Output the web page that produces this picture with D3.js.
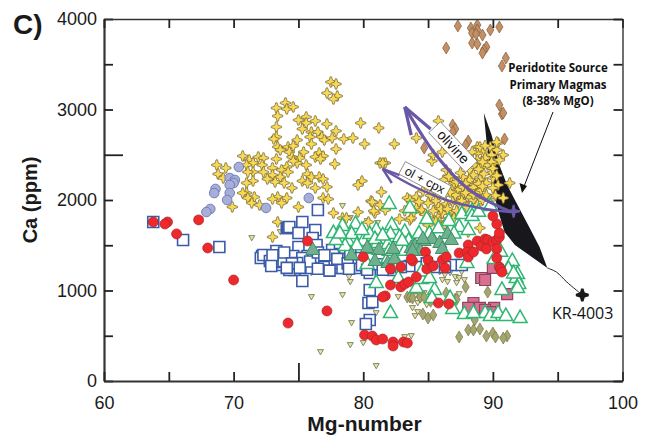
<!DOCTYPE html>
<html>
<head>
<meta charset="utf-8">
<script src="https://cdn.jsdelivr.net/npm/d3@7"></script>
<style>
  html, body { margin: 0; padding: 0; background: #fff; }
  svg { display: block; font-family: "Liberation Sans", Arial, sans-serif; }
</style>
</head>
<body>
<svg width="653" height="440"></svg>
<script>
// values as [Mg-number, Ca ppm]
const smallTriangles = [[71.4,1580],[73.6,1646],[78.4,1934],[79,1801],[80.3,1768],[81.1,1746],[76,928],[78.4,950],[78.9,1149],[79,1094],[79.1,641],[79,398],[76.7,320],[81,166],[80,420],[81,751],[82.7,928],[83.8,807],[84,718],[84.2,762],[83.7,497],[83.2,486],[76,1193],[87.4,961],[85.9,1204],[86.3,1171],[86.7,1193],[87.1,1149],[87.4,1138],[87.8,1116],[86.5,1094],[87.2,1083],[86.1,1116],[87.6,1204],[84,939],[84.4,895],[84.7,972],[85.1,895],[84.2,862],[84.9,840],[85.5,862],[85.4,950]];

const yellowStars = [[77.5,3304],[77.9,3282],[77.2,3182],[78,3149],[77.7,3116],[73.3,3017],[74,3072],[74.1,3006],[74.6,3028],[73.4,2928],[75,2884],[75.6,2917],[75.6,2851],[75.3,2785],[76.3,2873],[77.2,2840],[79.8,2851],[81.2,2796],[73.3,2807],[73.3,2696],[73.1,2674],[76,2751],[76.5,2751],[75.9,2696],[76.8,2696],[77,2663],[77.6,2685],[77.9,2763],[78.5,2674],[79.2,2685],[80.1,2619],[74.9,2663],[76,2619],[73.4,2586],[74.2,2586],[74.6,2597],[73.6,2553],[74.3,2530],[75.4,2530],[77.9,2564],[76.6,2519],[76.9,2486],[76.3,2475],[76.7,2453],[74.5,2475],[73.3,2453],[75.1,2464],[75.6,2387],[74.9,2409],[74.6,2431],[74.1,2365],[70.7,2486],[71.2,2442],[71.9,2475],[72.3,2464],[71.5,2409],[71,2387],[72.2,2387],[73,2354],[73.7,2332],[74.2,2309],[71.5,2309],[71.1,2309],[72.3,2309],[73,2276],[73.6,2254],[72.6,2232],[73.2,2199],[73.9,2188],[71.5,2210],[71,2188],[77.8,2398],[81.3,2409],[81.7,2409],[79.9,2210],[79.6,2166],[81.4,2088],[75.7,2287],[76,2254],[76.6,2254],[76.9,2232],[75.3,2210],[75.7,2188],[76.3,2133],[77.2,2144],[74.5,2133],[68.7,2387],[69.4,2354],[68.8,2287],[69.2,2243],[71,2077],[70.7,2077],[71.6,2033],[71.1,2022],[71.4,1967],[72,1945],[73.4,2033],[74.1,2022],[73,2011],[73.7,1967],[69.9,1923],[75,1923],[76.9,2022],[77.3,2011],[77.7,1856],[80.6,1989],[79.6,1867],[80.9,1856],[81.3,1945],[78.4,1801],[73.4,1757],[73,1591],[78.7,1801],[80.4,1757],[82.4,2619],[81.5,2409],[80.7,1978],[80.8,1879],[81.7,1890],[85.3,2431],[85.4,2497],[86.1,2530],[86.4,2332],[83.6,1779],[84.4,1890],[85,1967],[85.8,1934],[85.8,1812],[86.7,1856],[86.4,1956],[86.9,2144],[87.3,2110],[87.7,2144],[87.4,2033],[87.8,2055],[88.2,2110],[88.2,2033],[87.1,2055],[86.9,1978],[87.3,1967],[87.8,1967],[88.5,2000],[88.8,2077],[89.1,2110],[89.5,2055],[89.2,2000],[88.8,1945],[87.7,2254],[88.2,2332],[88.5,2276],[88.8,2586],[89.2,2530],[88.8,2519],[88.4,2530],[89.8,2586],[90.4,2630],[90.3,2553],[90.8,2497],[89.9,2497],[89.4,2464],[88.8,2442],[88.4,2442],[88.6,2387],[89.1,2365],[89.6,2387],[90.1,2409],[90.5,2442],[90,2243],[90.4,2166],[90,2133],[89.5,2188],[91.3,2188],[90.8,2022],[86.7,1779],[86.3,1746],[85,1801],[83.7,1801],[84.1,1912],[85.8,2055],[86.3,2055],[86.7,2088],[86.1,1856],[85.9,1757],[85,1724],[86.7,1801],[86.1,1702],[88.1,1646],[89,1691],[83.4,2022],[84.1,2033],[85.8,2873],[84.1,2685],[86.9,2221],[83.6,2000],[88.2,2221],[90.3,2641],[89,2586],[84.5,1890],[85.6,1990],[86.0,1900],[87.0,2190],[87.9,2180],[88.6,2170],[88.0,1920],[89.0,2230],[89.9,2300],[89.3,2290],[84.6,2100],[85.2,2180],[85.9,2160],[86.2,2220],[86.6,2260],[87.2,2200],[87.5,2300],[87.9,2080],[88.5,2140],[88.9,2180],[85.2,2050],[85.5,2120],[84.3,1980],[84.8,1840],[85.4,1880],[85.6,1760],[86.5,1900],[87.2,1880],[87,1800],[87.6,1990],[83.9,1870],[83.2,1880],[82.8,1790],[88.3,2440],[88.9,2340],[89.4,2600],[89.9,2420],[90,2350],[90.3,2270],[89.2,2420],[90.2,2050],[89.8,2000],[89.2,2150],[88.5,2060]];

const blueCircles = [[70.4,2365],[69.7,2243],[70.1,2221],[70,2188],[69.7,2166],[68.6,2122],[68.5,2077],[69.7,2077],[69.5,2000],[68.2,1901],[67.9,1867],[72.5,1912],[75.8,2022]];

const oliveDiamonds = [[87.9,1039],[89.6,983],[86.4,972],[87.1,906],[84.6,740],[85,696],[85.4,729],[88.6,674],[88.1,564],[88.5,564],[89,575],[87.4,486],[89.5,497],[90,530],[90.2,486],[91.1,497],[90.8,475],[83.4,928],[83.6,928],[83.8,917],[84.4,928],[84.7,928],[85.2,880],[87.2,900]];

const brownDiamonds = [[87.3,3923],[88.3,3900],[88.8,3934],[90.5,3912],[89.8,3879],[88.4,3845],[88.8,3879],[88.7,3834],[89.2,3823],[86.4,3680],[88.4,3735],[88.8,3724],[89.5,3691],[89.3,3658],[89.2,3624],[91,3569],[90.7,3481],[90.5,3050],[90.7,2950],[90.8,2961],[86.9,2829],[87.1,2785],[86.9,2751],[88.1,2652],[87.9,2608],[90.9,2674],[84.7,2575]];

const pinkSquares = [[89.1,1138],[89.4,1116],[90,1249],[91.1,961],[88.5,862],[88.1,807],[89,807],[90.1,807],[89.4,785],[89.8,762]];

const blueSquares = [[63.8,1757],[66.1,1558],[68.9,1481],[72.2,1381],[72.1,1359],[73.3,1436],[74.1,1691],[73.4,1282],[73.7,1315],[72.8,1359],[76.5,1890],[75.3,1757],[74.2,1691],[74.3,1702],[76.3,1668],[76.1,1580],[75,1481],[72.3,1392],[73.8,1326],[73,1315],[74.6,1381],[74.7,1226],[75.3,1105],[75.7,1381],[76.7,1315],[75.5,1304],[76,1249],[75.3,1359],[77.7,1293],[78.2,1249],[77.9,1403],[77.6,1448],[77.3,1359],[79.4,1249],[79.4,1359],[78.6,1470],[78.2,1525],[74.3,1226],[75,1635],[76.4,1503],[74.9,1304],[77,1260],[72.8,1326],[80.5,1193],[80.5,1006],[80.4,862],[80.7,873],[80.5,674],[80.2,630],[77.8,1304],[78.4,1249],[77.7,1392],[82.7,1260],[82.3,1226],[83.6,1271],[84.4,1260],[85.7,1260],[86.8,1282],[87.6,1282],[86.3,1260],[82.9,1260],[73,1390],[73.9,1420],[74.5,1300],[75.9,1320],[76.5,1420],[77,1390],[78,1350],[78.8,1300],[79,1400],[79.9,1280],[80.3,1230],[81.2,1290],[81.9,1250],[72.9,1270],[74.1,1250],[75.1,1250],[76.5,1240],[77.4,1220],[78.9,1240],[81.5,1230],[84.9,1300]];

const greenTriangles = [[82,1967],[83.6,1923],[78.4,1724],[79.4,1746],[77.7,1646],[81,1680],[82.2,1735],[82.1,1635],[83.2,1658],[78.8,1558],[78.6,1503],[79.1,1635],[80,1558],[80.5,1635],[81.1,1536],[81.9,1525],[80.4,1470],[80.3,1304],[81,1094],[82.7,1149],[82.1,762],[84.1,1039],[84.5,1138],[84.9,1801],[87.6,1856],[88.4,1890],[88.4,1834],[87.4,1713],[88,1315],[90.1,1359],[91.5,1337],[91.9,1193],[91.8,1149],[92,1083],[91.9,1039],[90.7,1017],[85.5,1017],[85.3,928],[86.7,928],[86.9,807],[87.8,751],[89.4,762],[89.8,729],[90.4,762],[91,729],[92.1,707],[88.5,762],[89.8,1945],[88.9,1880],[88.1,1680],[83.2,1450],[83.9,1500],[82.7,1290],[81.9,1370],[85.1,1640],[77.9,1570],[78.2,1640],[79.5,1510],[80.9,1580],[81.5,1620],[82.8,1600],[83.5,1560],[79.9,1680],[82,1450],[83,1560],[84.3,1640],[85.8,1700],[86.6,1780],[87,1640],[84.5,1220],[85.1,1150],[90.6,1440],[91.2,1250],[91.6,1200]];

const greenFilled = [[76.1,1459],[79.1,1403],[80.3,1481],[81.2,1459],[80.9,1337],[81.9,1315],[82.4,1359],[82.3,1470],[83.7,1481],[84.1,1448],[84.7,1558],[84,1503],[85.3,1580],[85.9,1536],[86.5,1635],[86.8,1569],[86.1,1470],[84.4,1448],[84.6,1580],[83.8,1448]];

const redCircles = [[63.8,1757],[64.9,1757],[64.7,1735],[65.6,1625],[67.3,1780],[68,1470],[70,1116],[74.2,640],[75.7,1547],[77.2,774],[80,1370],[82.1,1238],[82.9,1260],[81.7,940],[81.5,928],[82.1,1060],[82.9,1040],[83.2,1072],[83.5,1094],[84.1,1150],[80.1,508],[80.7,497],[81,453],[81.5,464],[82.3,431],[82.3,387],[83.1,431],[83.4,420],[83.8,1326],[83.7,1348],[84.8,1425],[85,1337],[84.9,1238],[85.4,1271],[86.1,1337],[86.4,1370],[86.3,1249],[87.4,1414],[88.1,1503],[88,1425],[88.1,1370],[88.5,1425],[88.8,1547],[89.1,1492],[89.4,1569],[89.6,1558],[89.5,1459],[90,1536],[90.3,1558],[90.5,1591],[90.5,1635],[90.3,1735],[90,1823],[90.3,1459],[90.3,1359],[90.5,1260],[90.6,1238],[90.7,1204],[85.8,862],[86.6,851]];

const primaryField = [[89.3,2961],[89.9,2718],[90.5,2387],[91.1,2166],[91.7,2000],[92.8,1702],[93.6,1481],[94.2,1249],[91.7,1503],[90.9,1646],[90.5,1834],[90.1,2055],[89.8,2332],[89.5,2663]];
const krTrend = [[94.2,1249],[94.9,1204],[95.7,1094],[96.9,950]];
const krPoint = [96.9,950];

const olivinePath = [[91.4,1867],[88.2,2110],[85.7,2480],[83.2,3028]];
const olivineBarbs = [[[85.2,2785],[83.2,3028]],[[83.7,2718],[83.2,3028]]];
const cpxPath = [[91.3,1867],[89,1912],[86.4,2000],[84,2144],[81.5,2343]];
const cpxBarbs = [[[82.8,2276],[81.5,2343]],[[82.2,2188],[81.5,2343]]];

const xTicks = [60,65,70,75,80,85,90,95,100];
const yTicks = [0,500,1000,1500,2000,2500,3000,3500,4000];
const xLabelled = [60,70,80,90,100];
const yLabelled = [0,1000,2000,3000,4000];
const noteLines = ["Peridotite Source","Primary Magmas","(8-38% MgO)"];

const svg = d3.select("svg");
const x = d3.scaleLinear().domain([60,100]).range([104,622.5]);
const y = d3.scaleLinear().domain([0,4000]).range([381,19]);

// marker shapes that d3 does not ship with
const polygonSymbol = pts => ({ draw(ctx) {
  pts.forEach((p,i) => i ? ctx.lineTo(p[0],p[1]) : ctx.moveTo(p[0],p[1]));
  ctx.closePath();
}});
// four blunt lobes, like the plus shaped marker in the figure
const star = (r, t, c) => polygonSymbol([
  [-t,-r],[t,-r],[c,-c],[r,-t],[r,t],[c,c],[t,r],[-t,r],[-c,c],[-r,t],[-r,-t],[-c,-c]
]);
const circle = r => ({ draw(ctx) { ctx.moveTo(r,0); ctx.arc(0,0,r,0,2*Math.PI); } });
const diamond = polygonSymbol([[0,-6],[3.6,0],[0,6],[-3.6,0]]);
const upTri = polygonSymbol([[0,-7],[7,5.5],[-7,5.5]]);
const downTri = polygonSymbol([[-3,-2.4],[3,-2.4],[0,2.8]]);
const box = s => polygonSymbol([[-s,-s],[s,-s],[s,s],[-s,s]]);

function drawPoints(data, type, fill, stroke, width) {
  svg.append("g").selectAll("path").data(data).join("path")
    .attr("transform", d => `translate(${x(d[0])},${y(d[1])})`)
    .attr("d", d3.symbol().type(type)())
    .attr("fill", fill).attr("stroke", stroke).attr("stroke-width", width);
}

const straight = d3.line().x(d => x(d[0])).y(d => y(d[1]));
const curve = d3.line().x(d => x(d[0])).y(d => y(d[1])).curve(d3.curveCatmullRom);

// black primary magma field goes below the symbols
svg.append("path").datum(primaryField)
  .attr("d", d3.line().x(d => x(d[0])).y(d => y(d[1])).curve(d3.curveLinearClosed))
  .attr("fill", "#17171c");
svg.append("path").datum(krTrend)
  .attr("d", curve).attr("fill", "none").attr("stroke", "#222").attr("stroke-width", 1);

drawPoints(smallTriangles, downTri, "#e6e69c", "#6b6b50", 0.8);
drawPoints(oliveDiamonds, diamond, "#a5a56e", "#77774c", 0.7);
drawPoints(yellowStars, star(5.2, 0.7, 1.7), "#f8d955", "#6e6030", 0.7);
drawPoints(blueCircles, circle(4.8), "#a9aed6", "#6f80bb", 1);
drawPoints(brownDiamonds, diamond, "#c48f62", "#7e5e42", 0.7);
drawPoints(pinkSquares, box(5.5), "#d9708f", "#8c4460", 1.2);
drawPoints(blueSquares, box(5.5), "#fff", "#3b5ba9", 1.6);
drawPoints(greenTriangles, upTri, "#fff", "#2fb673", 1.5);
drawPoints(greenFilled, upTri, "#6fb08f", "#3f8f68", 1);
drawPoints(redCircles, circle(5), "#ee282d", "#a62a2a", 0.7);

// purple reaction paths
const purple = "#6a57a6";
[[olivinePath,3.2,olivineBarbs],[cpxPath,2.4,cpxBarbs]].forEach(([path,w,barbs]) => {
  svg.append("path").datum(path).attr("d", curve)
    .attr("fill","none").attr("stroke",purple).attr("stroke-width",w);
  barbs.forEach(b => svg.append("path").datum(b).attr("d", straight)
    .attr("fill","none").attr("stroke",purple).attr("stroke-width",w));
});
svg.append("path")
  .attr("transform", `translate(${x(91.6)},${y(1875)})`)
  .attr("d", d3.symbol().type(star(6.5, 1, 2))()).attr("fill", purple);

// rotated labels on the paths
[["olivine",453,147,47,54,16,14],["ol + cpx",425,180,28,52,14,12.5]].forEach(([t,cx,cy,a,w,h,fs]) => {
  const g = svg.append("g").attr("transform", `translate(${cx},${cy}) rotate(${a})`);
  g.append("rect").attr("x",-w/2).attr("y",-h/2).attr("width",w).attr("height",h)
    .attr("fill","#fff").attr("stroke","#555").attr("stroke-width",0.6);
  g.append("text").attr("text-anchor","middle").attr("y",4.5)
    .attr("font-size",fs).attr("fill","#111").text(t);
});

// KR-4003 sample
svg.append("path").attr("transform", `translate(${x(krPoint[0])},${y(krPoint[1])})`)
  .attr("d", d3.symbol().type(star(6.5, 1.2, 2.4))()).attr("fill","#1a1a1a");
svg.append("text").attr("x",552).attr("y",319).attr("font-size",16)
  .attr("font-family","'Open Sans'").attr("fill","#111").text("KR-4003");

// note and its arrow
svg.append("g").selectAll("text").data(noteLines).join("text")
  .attr("x",558).attr("y",(d,i) => 72 + i * 16.7)
  .attr("text-anchor","middle").attr("font-family","'Open Sans'")
  .attr("font-weight",700).attr("font-size",11.5).attr("fill","#111").text(d => d);
svg.append("line").attr("x1",553).attr("y1",112).attr("x2",523).attr("y2",189)
  .attr("stroke","#111").attr("stroke-width",1);
svg.append("path").attr("d","M522,193 L519.5,183 L527,186 Z").attr("fill","#111");

// axes
function styleAxis(g, w) {
  g.attr("font-family", null);
  g.selectAll("line").attr("stroke","#222").attr("stroke-width",1.8);
  g.selectAll(".domain").attr("stroke","#333").attr("stroke-width",w);
  g.selectAll("text").attr("font-size",18).attr("fill","#1a1a1a");
}
const gLeft = svg.append("g").attr("transform","translate(104,0)")
  .call(d3.axisLeft(y).tickValues(yTicks).tickPadding(7).tickSizeOuter(0).tickSizeInner(-9)
    .tickFormat(d => yLabelled.includes(d) ? d : ""));
styleAxis(gLeft, 2.2);
gLeft.selectAll(".tick").filter(d => d === 2500).select("line").attr("x2",19);
const gBottom = svg.append("g").attr("transform","translate(0,381)")
  .call(d3.axisBottom(x).tickValues(xTicks).tickPadding(15).tickSizeOuter(0).tickSizeInner(-9)
    .tickFormat(d => xLabelled.includes(d) ? d : ""));
styleAxis(gBottom, 2.2);
gBottom.selectAll(".tick").filter(d => d === 75).select("line").attr("y2",-18);

const gTop = svg.append("g").attr("transform","translate(0,19)")
  .call(d3.axisTop(x).tickValues(xTicks).tickSizeOuter(0).tickSizeInner(-9).tickFormat(""));
styleAxis(gTop, 1.4);
const gRight = svg.append("g").attr("transform","translate(622.5,0)")
  .call(d3.axisRight(y).tickValues(yTicks).tickSizeOuter(0).tickSizeInner(-9).tickFormat(""));
styleAxis(gRight, 1.4);

// titles
svg.append("text").attr("x",364.5).attr("y",431).attr("text-anchor","middle")
  .attr("font-size",21).attr("font-weight",700).attr("fill","#1a1a1a").text("Mg-number");
svg.append("text").attr("transform","translate(37,200) rotate(-90)").attr("text-anchor","middle")
  .attr("font-size",20).attr("font-weight",700).attr("fill","#1a1a1a").text("Ca (ppm)");
svg.append("text").attr("x",13).attr("y",34)
  .attr("font-size",28).attr("font-weight",700).attr("fill","#1a1a1a").text("C)");
</script>
</body>
</html>
